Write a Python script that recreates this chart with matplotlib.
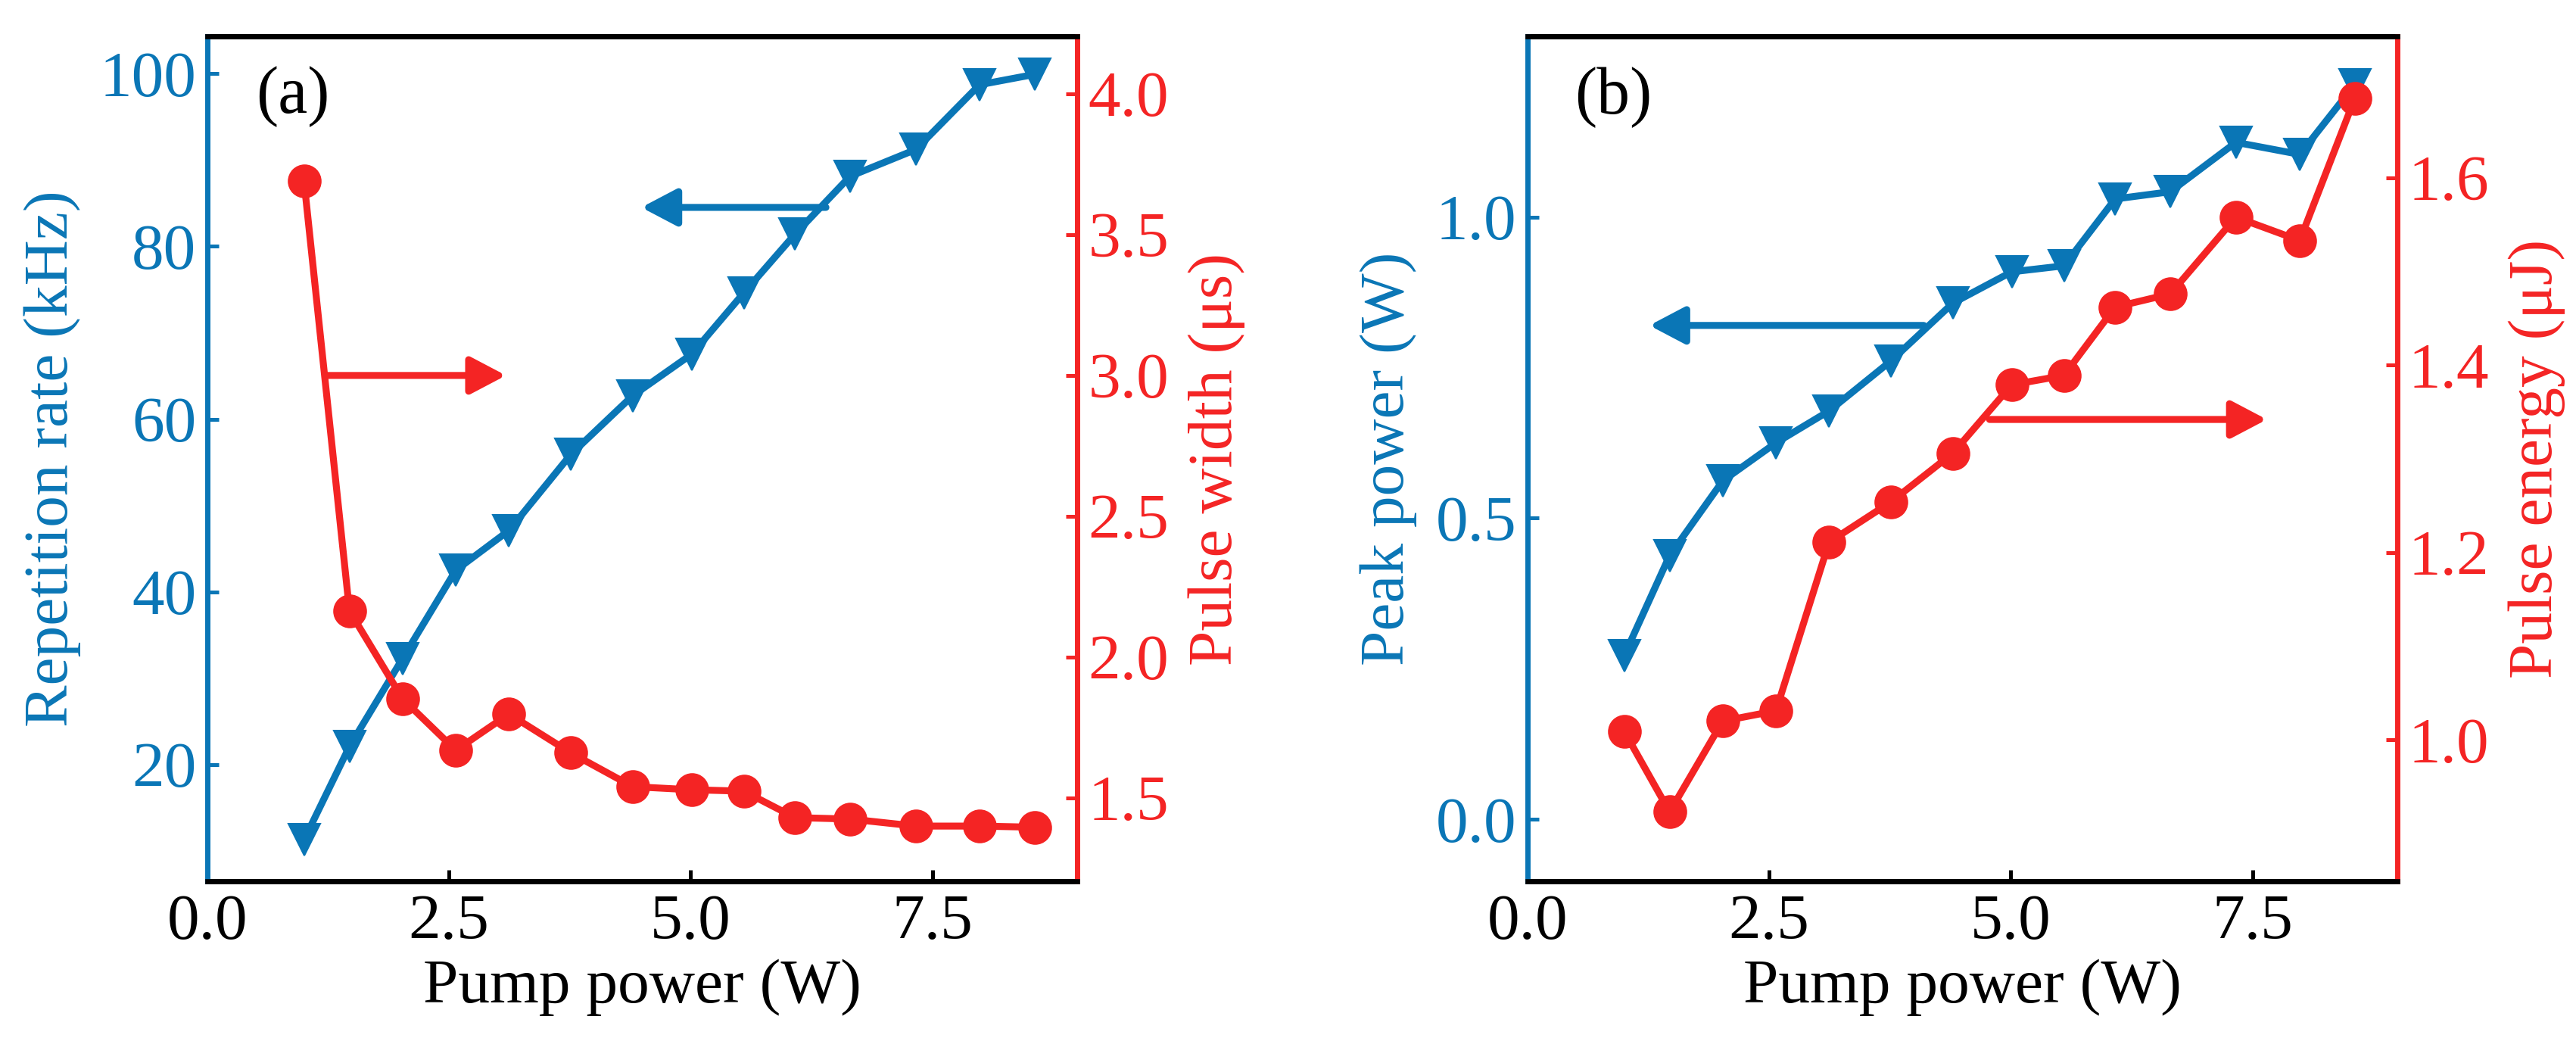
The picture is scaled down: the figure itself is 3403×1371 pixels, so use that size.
import matplotlib
matplotlib.use("Agg")
import matplotlib.pyplot as plt

plt.rcParams['font.family'] = ['Liberation Serif', 'DejaVu Serif']
plt.rcParams['mathtext.fontset'] = 'stix'

BLUE = '#0a76b6'
RED = '#f42424'

# Data
pump_power = [1.0, 1.47, 2.02, 2.57, 3.12, 3.76, 4.40, 5.01, 5.55, 6.08, 6.65, 7.33, 7.99, 8.56]
rep_rate = [11.3, 22.1, 32.3, 42.5, 47.1, 55.9, 62.7, 67.5, 74.6, 81.4, 88.1, 91.2, 98.7, 99.9]
pulse_width = [3.69, 2.164, 1.852, 1.669, 1.798, 1.66, 1.54, 1.529, 1.524, 1.43, 1.425, 1.40, 1.40, 1.396]
peak_power = [0.272, 0.438, 0.562, 0.625, 0.678, 0.761, 0.857, 0.909, 0.919, 1.030, 1.042, 1.124, 1.104, 1.220]
pulse_energy = [1.009, 0.923, 1.020, 1.031, 1.211, 1.254, 1.306, 1.379, 1.389, 1.462, 1.476, 1.558, 1.533, 1.685]

x_ticks = [0.0, 2.5, 5.0, 7.5]
x_ticklabels = ['0.0', '2.5', '5.0', '7.5']

TICK_FS = 20.5
LABEL_FS = 20
LW = 2.2
MS = 10.2

fig = plt.figure(figsize=(3404/300, 1371/300), dpi=300)


def style_axes(ax, ax2):
    for sp in ['top', 'bottom']:
        ax.spines[sp].set_color('black')
        ax2.spines[sp].set_color('black')
        ax.spines[sp].set_linewidth(1.6)
        ax2.spines[sp].set_linewidth(1.6)
    ax.spines['left'].set_color(BLUE)
    ax2.spines['left'].set_color(BLUE)
    ax.spines['right'].set_color(RED)
    ax2.spines['right'].set_color(RED)
    for sp in ['left', 'right']:
        ax.spines[sp].set_linewidth(1.6)
        ax2.spines[sp].set_linewidth(1.6)
    ax.set_xlim(0, 9)
    ax.set_xticks(x_ticks)
    ax.set_xticklabels(x_ticklabels)
    ax.tick_params(axis='x', direction='in', length=3.5, width=1.2, colors='black',
                   labelsize=TICK_FS, pad=4, top=False)
    ax.tick_params(axis='y', direction='in', length=3.5, width=1.2, colors=BLUE,
                   labelsize=TICK_FS, pad=3.5)
    ax2.tick_params(axis='y', direction='in', length=3.5, width=1.2, colors=RED,
                    labelsize=TICK_FS, pad=3.5)
    ax.set_xlabel('Pump power (W)', fontsize=LABEL_FS, labelpad=2)


# Panel (a)
axA = fig.add_axes([0.08049, 0.15098, 0.33755, 0.81400])
axA2 = axA.twinx()
style_axes(axA, axA2)
axA.plot(pump_power, rep_rate, color=BLUE, lw=LW, marker='v', ms=MS, mew=0.5)
axA2.plot(pump_power, pulse_width, color=RED, lw=LW, marker='o', ms=MS, mew=0.5)
axA.set_ylim(6.5, 104.3)
axA.set_yticks([20, 40, 60, 80, 100])
axA2.set_ylim(1.204, 4.204)
axA2.set_yticks([1.5, 2.0, 2.5, 3.0, 3.5, 4.0])
axA2.set_yticklabels(['1.5', '2.0', '2.5', '3.0', '3.5', '4.0'])
axA.set_ylabel('Repetition rate (kHz)', fontsize=LABEL_FS, color=BLUE, labelpad=6)
axA2.set_ylabel('Pulse width (μs)', fontsize=LABEL_FS, color=RED, labelpad=6)
axA.text(0.098, 0.929, '(a)', transform=axA.transAxes, fontsize=21,
         ha='center', va='center', color='black')
axA.annotate('', xy=(4.49, 84.5), xytext=(6.4, 84.5),
             arrowprops=dict(arrowstyle='-|>,head_length=0.38,head_width=0.2',
                             lw=LW, color=BLUE, mutation_scale=25,
                             shrinkA=0, shrinkB=0))
axA2.annotate('', xy=(3.09, 3.0), xytext=(1.23, 3.0),
              arrowprops=dict(arrowstyle='-|>,head_length=0.38,head_width=0.2',
                              lw=LW, color=RED, mutation_scale=25,
                              shrinkA=0, shrinkB=0))

# Panel (b)
axB = fig.add_axes([0.59283, 0.15098, 0.33755, 0.81400])
axB2 = axB.twinx()
style_axes(axB, axB2)
axB.plot(pump_power, peak_power, color=BLUE, lw=LW, marker='v', ms=MS, mew=0.5)
axB2.plot(pump_power, pulse_energy, color=RED, lw=LW, marker='o', ms=MS, mew=0.5)
axB.set_ylim(-0.103, 1.300)
axB.set_yticks([0.0, 0.5, 1.0])
axB.set_yticklabels(['0.0', '0.5', '1.0'])
axB2.set_ylim(0.849, 1.751)
axB2.set_yticks([1.0, 1.2, 1.4, 1.6])
axB2.set_yticklabels(['1.0', '1.2', '1.4', '1.6'])
axB.set_ylabel('Peak power (W)', fontsize=LABEL_FS, color=BLUE, labelpad=6)
axB2.set_ylabel('Pulse energy (μJ)', fontsize=LABEL_FS, color=RED, labelpad=6)
axB.text(0.099, 0.928, '(b)', transform=axB.transAxes, fontsize=21,
         ha='center', va='center', color='black')
axB.annotate('', xy=(1.26, 0.82), xytext=(4.10, 0.82),
             arrowprops=dict(arrowstyle='-|>,head_length=0.38,head_width=0.2',
                             lw=LW, color=BLUE, mutation_scale=25,
                             shrinkA=0, shrinkB=0))
axB2.annotate('', xy=(7.65, 1.342), xytext=(4.78, 1.342),
              arrowprops=dict(arrowstyle='-|>,head_length=0.38,head_width=0.2',
                              lw=LW, color=RED, mutation_scale=25,
                              shrinkA=0, shrinkB=0))

fig.savefig('out.png', dpi=300)
